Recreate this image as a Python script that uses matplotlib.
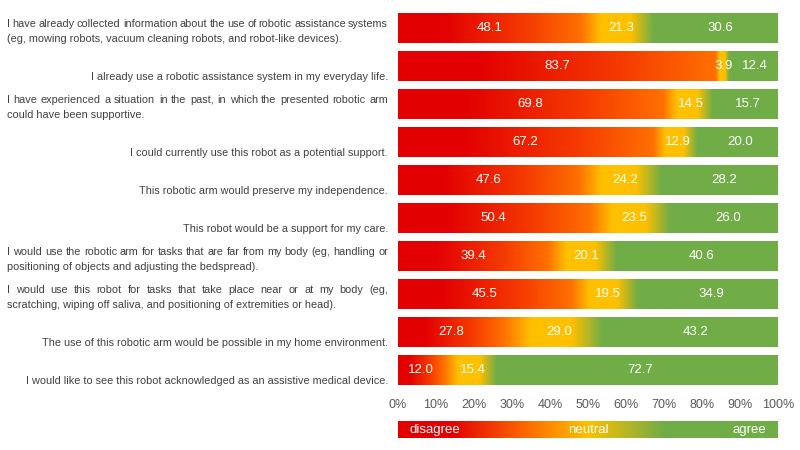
import numpy as np
import matplotlib
matplotlib.use('Agg')
import matplotlib.pyplot as plt
from matplotlib.colors import to_rgb
from matplotlib.transforms import IdentityTransform

# ------------------------------------------------------------
# data (percent: disagree / neutral / agree)
# ------------------------------------------------------------
statements = [
    "I have already collected information about the use of robotic assistance systems\n"
    "(eg, mowing robots, vacuum cleaning robots, and robot-like devices).",
    "I already use a robotic assistance system in my everyday life.",
    "I have experienced a situation in the past, in which the presented robotic arm\n"
    "could have been supportive.",
    "I could currently use this robot as a potential support.",
    "This robotic arm would preserve my independence.",
    "This robot would be a support for my care.",
    "I would use the robotic arm for tasks that are far from my body (eg, handling or\n"
    "positioning of objects and adjusting the bedspread).",
    "I would use this robot for tasks that take place near or at my body (eg,\n"
    "scratching, wiping off saliva, and positioning of extremities or head).",
    "The use of this robotic arm would be possible in my home environment.",
    "I would like to see this robot acknowledged as an assistive medical device.",
]
disagree = [48.1, 83.7, 69.8, 67.2, 47.6, 50.4, 39.4, 45.5, 27.8, 12.0]
neutral = [21.3, 3.9, 14.5, 12.9, 24.2, 23.5, 20.1, 19.5, 29.0, 15.4]
agree = [30.6, 12.4, 15.7, 20.0, 28.2, 26.0, 40.6, 34.9, 43.2, 72.7]
xticks = [0, 10, 20, 30, 40, 50, 60, 70, 80, 90, 100]
legend_words = ['disagree', 'neutral', 'agree']

RED = to_rgb('#E30000')
RED_OR = to_rgb('#F53A00')
ORANGE = to_rgb('#FF7000')
YELLOW = to_rgb('#FFC000')
GREEN = to_rgb('#70AD47')

LABEL_FONT = ['Liberation Sans Narrow', 'Liberation Sans', 'DejaVu Sans']
NUM_FONT = ['Liberation Sans', 'DejaVu Sans']
TEXT_COL = '#404040'


def gradient_row(stops, n=800):
    """stops: list of (x in 0..100, rgb) -> (1, n, 3) image"""
    xs = np.linspace(0, 100, n)
    pos = np.array([s[0] for s in stops])
    cols = np.array([s[1] for s in stops])
    img = np.stack([np.interp(xs, pos, cols[:, k]) for k in range(3)], axis=-1)
    return img[np.newaxis, :, :]


fig = plt.figure(figsize=(8, 4.5), dpi=100)
ax = fig.add_axes([398 / 800, 1 - 389 / 450, 380 / 800, 380 / 450])

n_rows = len(statements)
ypos = np.arange(n_rows)
BAR_H = 0.78
totals = np.array(disagree) + np.array(neutral) + np.array(agree)
bars = ax.barh(ypos, totals, height=BAR_H, color='none', edgecolor='none')

for i in range(n_rows):
    d, nu = disagree[i], neutral[i]
    stops = [(0, RED), (0.25 * d, RED), (0.7 * d, RED_OR), (d, ORANGE),
             (d + 0.25 * nu, YELLOW), (d + 0.62 * nu, YELLOW),
             (d + 0.9 * nu, GREEN), (100, GREEN)]
    im = ax.imshow(gradient_row(stops), extent=[0, 100, i + BAR_H / 2, i - BAR_H / 2],
                   aspect='auto', interpolation='bilinear', zorder=1)
    im.set_clip_path(bars[i])

    # value labels centred in each segment
    lefts = [0, d, d + nu]
    for left, w in zip(lefts, [d, nu, agree[i]]):
        ax.text(left + w / 2, i, f'{w:.1f}', color='white', fontsize=9.5,
                family=NUM_FONT, ha='center', va='center', zorder=3)

ax.set_xlim(0, 100)
ax.set_ylim(n_rows - 0.5, -0.5)
ax.set_xticks(xticks)
ax.set_xticklabels([f'{t}%' for t in xticks], fontsize=9, color='#595959',
                   family=NUM_FONT)
ax.tick_params(axis='x', length=0, pad=7)
ax.set_yticks([])
for sp in ax.spines.values():
    sp.set_visible(False)

# ------------------------------------------------------------
# statement labels (first line of two-line labels justified)
# ------------------------------------------------------------
renderer = fig.canvas.get_renderer()
X_LEFT, X_RIGHT = 7, 388
LINE_STEP = 15
LABEL_SIZE = 7.8


def put(x, y, s, ha):
    return fig.text(x, y, s, transform=IdentityTransform(), ha=ha, va='center',
                    fontsize=LABEL_SIZE, family=LABEL_FONT, color=TEXT_COL)


for i, lab in enumerate(statements):
    # bar centre in pixels (display coords, origin bottom-left)
    yc = ax.transData.transform((0, i))[1]
    lines = lab.split('\n')
    y_last = yc - 11
    if len(lines) == 1:
        put(X_RIGHT, y_last, lines[0], 'right')
        continue
    y_first = y_last + LINE_STEP
    words = lines[0].split()
    objs = [put(0, y_first, w, 'left') for w in words]
    widths = [o.get_window_extent(renderer).width for o in objs]
    gap = (X_RIGHT - X_LEFT - sum(widths)) / (len(words) - 1)
    x = X_LEFT
    for o, w in zip(objs, widths):
        o.set_x(x)
        x += w + gap
    put(X_LEFT, y_last, lines[1], 'left')

# ------------------------------------------------------------
# legend bar
# ------------------------------------------------------------
lax = fig.add_axes([398 / 800, 1 - 438 / 450, 380 / 800, 17 / 450])
lstops = [(0, RED), (14, RED), (35, ORANGE), (50, YELLOW), (70, GREEN), (100, GREEN)]
lax.imshow(gradient_row(lstops), extent=[0, 100, 0, 1], aspect='auto',
           interpolation='bilinear')
lax.set_xlim(0, 100)
lax.set_ylim(0, 1)
lax.axis('off')
for xp, word, ha in zip([3, 50, 97], legend_words, ['left', 'center', 'right']):
    lax.text(xp, 0.47, word, color='white', fontsize=9.5, family=NUM_FONT,
             ha=ha, va='center')

fig.savefig('out.png', dpi=100, facecolor='white')
